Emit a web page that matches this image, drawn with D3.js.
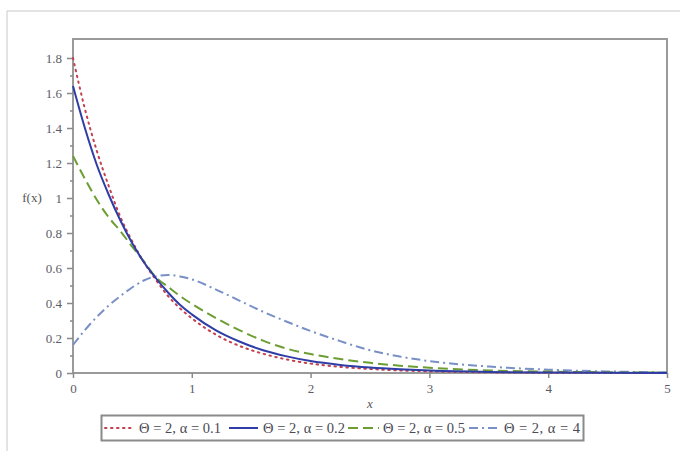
<!DOCTYPE html>
<html>
<head>
<meta charset="utf-8">
<script src="https://cdn.jsdelivr.net/npm/d3@7"></script>
<style>
  html, body { margin: 0; padding: 0; background: #fff; }
  svg { display: block; }
  svg text { font-family: "Liberation Serif", "DejaVu Serif", serif; }
</style>
</head>
<body>
<svg id="chart" width="680" height="451"></svg>
<script>
// Sample points along x
const xs = [0, 0.1, 0.2, 0.3, 0.4, 0.5, 0.6, 0.7, 0.8, 0.9, 1.0, 1.2, 1.4, 1.6, 1.8, 2.0, 2.25, 2.5, 2.75, 3.0, 3.5, 4.0, 4.5, 5.0];

// f(x) for theta = 2 and four alpha values
const fAlpha01 = [1.80, 1.51, 1.27, 1.07, 0.89, 0.75, 0.63, 0.53, 0.44, 0.37, 0.313, 0.22, 0.155, 0.11, 0.077, 0.054, 0.035, 0.023, 0.015, 0.0094, 0.004, 0.0017, 0.0007, 0.0003];
const fAlpha02 = [1.64, 1.40, 1.19, 1.02, 0.87, 0.74, 0.63, 0.54, 0.46, 0.39, 0.335, 0.245, 0.18, 0.13, 0.095, 0.068, 0.046, 0.031, 0.021, 0.014, 0.006, 0.003, 0.001, 0.0005];
const fAlpha05 = [1.24, 1.11, 0.99, 0.89, 0.81, 0.72, 0.635, 0.545, 0.493, 0.44, 0.395, 0.315, 0.245, 0.185, 0.139, 0.108, 0.08, 0.058, 0.042, 0.03, 0.015, 0.008, 0.004, 0.002];
const fAlpha4  = [0.16, 0.245, 0.32, 0.385, 0.44, 0.49, 0.53, 0.553, 0.56, 0.552, 0.535, 0.478, 0.414, 0.35, 0.293, 0.24, 0.182, 0.13, 0.094, 0.068, 0.037, 0.019, 0.009, 0.004];

const seriesLabels = ["\u0398 = 2, \u03b1 = 0.1", "\u0398 = 2, \u03b1 = 0.2", "\u0398 = 2, \u03b1 = 0.5", "\u0398 = 2, \u03b1 = 4"];
const xTicks = [0, 1, 2, 3, 4, 5];
const yTicks = [0, 0.2, 0.4, 0.6, 0.8, 1, 1.2, 1.4, 1.6, 1.8];
const yMinorTicks = [0.1, 0.3, 0.5, 0.7, 0.9, 1.1, 1.3, 1.5, 1.7];

const styles = [
  { color: "#c4404e", width: 2, dash: "1.5,4.5", cap: "round" },
  { color: "#2e3ea6", width: 2, dash: null, cap: "butt" },
  { color: "#6c9e33", width: 2, dash: "10,5", cap: "butt" },
  { color: "#7890c6", width: 2, dash: "9,4,2,4", cap: "butt" }
];

const svg = d3.select("#chart");

// Page border lines
svg.append("line").attr("x1", 7).attr("y1", 11).attr("x2", 680).attr("y2", 11)
  .attr("stroke", "#c8c8c8").attr("stroke-width", 1);
svg.append("line").attr("x1", 7).attr("y1", 11).attr("x2", 7).attr("y2", 451)
  .attr("stroke", "#c8c8c8").attr("stroke-width", 1);

const plot = { left: 73, right: 667, top: 39, bottom: 373 };

const x = d3.scaleLinear().domain([0, 5]).range([plot.left, plot.right]);
const y = d3.scaleLinear().domain([0, 1.8]).range([plot.bottom, plot.bottom - 315]);

// Plot frame
svg.append("rect")
  .attr("x", plot.left).attr("y", plot.top)
  .attr("width", plot.right - plot.left).attr("height", plot.bottom - plot.top)
  .attr("fill", "none").attr("stroke", "#9a9a9a").attr("stroke-width", 2);

// Axes
const xAxis = d3.axisBottom(x).tickValues(xTicks).tickFormat(d3.format("d")).tickSize(5).tickSizeOuter(0);
const gx = svg.append("g").attr("transform", `translate(0,${plot.bottom})`).call(xAxis);
gx.select(".domain").remove();
gx.selectAll(".tick line").attr("stroke", "#8a8a8a").attr("stroke-width", 1.5);
gx.selectAll(".tick text").attr("font-size", 13).attr("fill", "#5c5c66").attr("dy", "0.9em")
  .style("font-family", "'Liberation Serif', 'DejaVu Serif', serif");

const yAxis = d3.axisLeft(y).tickValues(yTicks).tickFormat(d => d === 0 ? "0" : d3.format("~g")(d)).tickSize(6).tickSizeOuter(0);
const gy = svg.append("g").attr("transform", `translate(${plot.left},0)`).call(yAxis);
gy.select(".domain").remove();
gy.selectAll(".tick line").attr("stroke", "#8a8a8a").attr("stroke-width", 1.5);
gy.selectAll(".tick text").attr("font-size", 13).attr("fill", "#5c5c66").attr("dx", "-0.15em")
  .style("font-family", "'Liberation Serif', 'DejaVu Serif', serif");

const gyMinor = svg.append("g").attr("transform", `translate(${plot.left},0)`)
  .call(d3.axisLeft(y).tickValues(yMinorTicks).tickFormat("").tickSize(3).tickSizeOuter(0));
gyMinor.select(".domain").remove();
gyMinor.selectAll(".tick line").attr("stroke", "#8a8a8a").attr("stroke-width", 1.5);

// Axis titles
svg.append("text").attr("x", 370).attr("y", 408).attr("text-anchor", "middle")
  .attr("font-style", "italic").attr("font-size", 13).attr("fill", "#555")
  .style("font-family", "'Liberation Serif', 'DejaVu Serif', serif")
  .text("x");
svg.append("text").attr("x", 32).attr("y", 202).attr("text-anchor", "middle")
  .attr("font-size", 13).attr("fill", "#555")
  .style("font-family", "'Liberation Serif', 'DejaVu Serif', serif")
  .text("f(x)");

// Curves
const seriesData = [fAlpha01, fAlpha02, fAlpha05, fAlpha4];
const line = d3.line().x(d => x(d[0])).y(d => y(d[1])).curve(d3.curveMonotoneX);

const curves = svg.append("g");
[3, 2, 0, 1].forEach(i => {
  const pts = xs.map((v, j) => [v, seriesData[i][j]]);
  curves.append("path")
    .attr("d", line(pts))
    .attr("fill", "none")
    .attr("stroke", styles[i].color)
    .attr("stroke-width", styles[i].width)
    .attr("stroke-dasharray", styles[i].dash)
    .attr("stroke-linecap", styles[i].cap);
});

// Legend
const legend = svg.append("g");
legend.append("rect").attr("x", 101.5).attr("y", 415.5).attr("width", 482).attr("height", 25)
  .attr("fill", "#fff").attr("stroke", "#8a8a8a").attr("stroke-width", 2);

const legendItems = [
  { sx: 105, ex: 132, tx: 139 },
  { sx: 229, ex: 258, tx: 263 },
  { sx: 348, ex: 379, tx: 383 },
  { sx: 469, ex: 500, tx: 504 }
];
legendItems.forEach((it, i) => {
  legend.append("line")
    .attr("x1", it.sx).attr("x2", it.ex).attr("y1", 428).attr("y2", 428)
    .attr("stroke", styles[i].color)
    .attr("stroke-width", styles[i].width)
    .attr("stroke-dasharray", styles[i].dash)
    .attr("stroke-linecap", styles[i].cap);
  legend.append("text")
    .attr("x", it.tx).attr("y", 433)
    .attr("font-size", 14.5).attr("fill", "#4a4a55")
    .attr("textLength", i === 3 ? 76 : 82)
    .style("font-family", "'Liberation Serif', 'DejaVu Serif', serif")
    .text(seriesLabels[i]);
});
</script>
</body>
</html>
